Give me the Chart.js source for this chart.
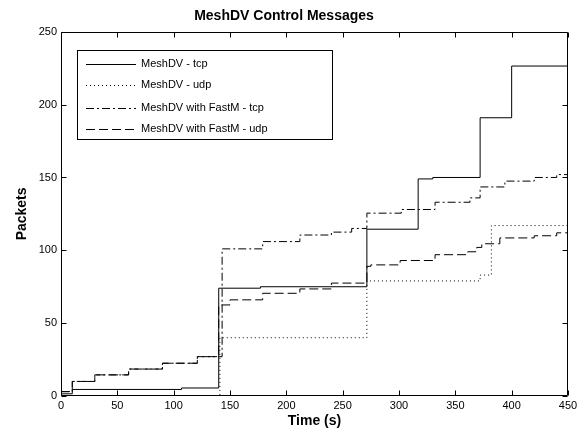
<!DOCTYPE html>
<html lang="en">
<head>
<meta charset="UTF-8">
<title>MeshDV Control Messages</title>
<script src="https://cdn.jsdelivr.net/npm/chart.js"></script>
<style>
    html, body { margin: 0; padding: 0; background: #fff; }
</style>
</head>
<body>
<canvas id="chart" width="585" height="434"></canvas>
<script>
// step points: value becomes y at time x
const tcpTime   = [0, 10, 107, 140, 177, 271.5, 317, 330, 372, 400, 450];
const tcpPkts   = [1.5, 4.5, 5.5, 74, 75, 114.5, 149, 150, 191, 226.5, 226.5];

const udpTime   = [0, 141, 271.5, 372, 382, 450];
const udpPkts   = [0, 40, 79, 83, 117, 117];

const fastTcpTime = [0, 10, 30, 60, 90, 121, 143, 179, 212, 240, 258, 271.5, 302, 332, 363, 372, 394, 420, 440, 450];
const fastTcpPkts = [3, 10, 14.5, 18.5, 22.5, 27, 101, 106, 110.5, 112.5, 115, 125.5, 128, 133, 136, 143.5, 147.5, 150, 152, 152];

const fastUdpTime = [0, 10, 30, 60, 90, 121, 140, 150, 179, 212, 240, 271.5, 275, 301, 332, 361, 369, 373.5, 389.5, 420, 440, 450];
const fastUdpPkts = [3, 10, 14.5, 18.5, 22.5, 27, 62.5, 66, 70.5, 73.5, 77.5, 89, 90, 93, 97, 99, 102, 104.5, 108.5, 110, 112, 112];

const seriesNames = ['MeshDV - tcp', 'MeshDV - udp', 'MeshDV with FastM - tcp', 'MeshDV with FastM - udp'];
const seriesDash  = [[], [1, 3], [8, 3, 2, 3], [9, 4]];

const xTicks = [0, 50, 100, 150, 200, 250, 300, 350, 400, 450];
const yTicks = [0, 50, 100, 150, 200, 250];

const FONT = 'Arial, "Liberation Sans", sans-serif';

function toPoints(xs, ys) {
    return xs.map((x, i) => ({ x: x, y: ys[i] }));
}

const allSeries = [
    toPoints(tcpTime, tcpPkts),
    toPoints(udpTime, udpPkts),
    toPoints(fastTcpTime, fastTcpPkts),
    toPoints(fastUdpTime, fastUdpPkts)
];

const datasets = allSeries.map((pts, i) => ({
    label: seriesNames[i],
    data: pts,
    borderColor: '#000',
    borderWidth: 1,
    borderDash: seriesDash[i],
    pointRadius: 0,
    stepped: true,
    fill: false
}));

// box around the plot, inward ticks, and the legend box
const framePlugin = {
    id: 'frame',
    afterDatasetsDraw(chart) {
        const { ctx, chartArea: a, scales } = chart;
        const x = scales.x, y = scales.y;
        ctx.save();
        ctx.strokeStyle = '#000';
        ctx.lineWidth = 1;
        ctx.setLineDash([]);
        ctx.beginPath();
        const L = Math.round(a.left) + 0.5, R = Math.round(a.right) - 0.5;
        const T = Math.round(a.top) + 0.5, B = Math.round(a.bottom) - 0.5;
        ctx.rect(L, T, R - L, B - T);
        xTicks.forEach(v => {
            const px = Math.round(x.getPixelForValue(v)) + 0.5;
            ctx.moveTo(px, B); ctx.lineTo(px, B - 5);
            ctx.moveTo(px, T); ctx.lineTo(px, T + 5);
        });
        yTicks.forEach(v => {
            const py = Math.round(y.getPixelForValue(v)) + 0.5;
            ctx.moveTo(L, py); ctx.lineTo(L + 5, py);
            ctx.moveTo(R, py); ctx.lineTo(R - 5, py);
        });
        ctx.stroke();

        // legend
        const bx = 77.5, by = 50.5, bw = 255, bh = 89;
        ctx.fillStyle = '#fff';
        ctx.fillRect(bx, by, bw, bh);
        ctx.strokeRect(bx, by, bw, bh);
        const rows = [64, 85, 108, 129];
        ctx.font = '11px ' + FONT;
        ctx.textBaseline = 'middle';
        ctx.textAlign = 'left';
        seriesNames.forEach((name, i) => {
            const ry = rows[i] + 0.5;
            ctx.beginPath();
            ctx.setLineDash(seriesDash[i]);
            ctx.moveTo(86, ry);
            ctx.lineTo(136, ry);
            ctx.stroke();
            ctx.setLineDash([]);
            ctx.fillStyle = '#000';
            ctx.fillText(name, 141, rows[i]);
        });
        ctx.restore();
    }
};

new Chart(document.getElementById('chart'), {
    type: 'line',
    data: { datasets: datasets },
    plugins: [framePlugin],
    options: {
        responsive: false,
        animation: false,
        layout: { padding: { top: 0, right: 17, left: 0, bottom: 0 } },
        plugins: {
            legend: { display: false },
            tooltip: { enabled: false },
            title: {
                display: true,
                text: 'MeshDV Control Messages',
                color: '#000',
                font: { family: FONT, size: 14, weight: 'bold' },
                padding: { top: 8, bottom: 7 }
            }
        },
        scales: {
            x: {
                type: 'linear',
                min: 0,
                max: 450,
                afterBuildTicks: s => { s.ticks = xTicks.map(v => ({ value: v })); },
                ticks: { color: '#000', font: { family: FONT, size: 11 }, padding: 3, maxRotation: 0 },
                grid: { display: false, drawTicks: false },
                border: { display: false },
                title: {
                    display: true,
                    text: 'Time (s)',
                    color: '#000',
                    font: { family: FONT, size: 14, weight: 'bold' },
                    padding: { top: 0, bottom: 4 }
                },
                afterFit: s => { s.height = 38; }
            },
            y: {
                min: 0,
                max: 250,
                afterBuildTicks: s => { s.ticks = yTicks.map(v => ({ value: v })); },
                ticks: { color: '#000', font: { family: FONT, size: 11 }, padding: 4 },
                grid: { display: false, drawTicks: false },
                border: { display: false },
                title: {
                    display: true,
                    text: 'Packets',
                    color: '#000',
                    font: { family: FONT, size: 14, weight: 'bold' },
                    padding: { top: 14, bottom: 0 }
                },
                afterFit: s => { s.width = 61; }
            }
        }
    }
});
</script>
</body>
</html>
